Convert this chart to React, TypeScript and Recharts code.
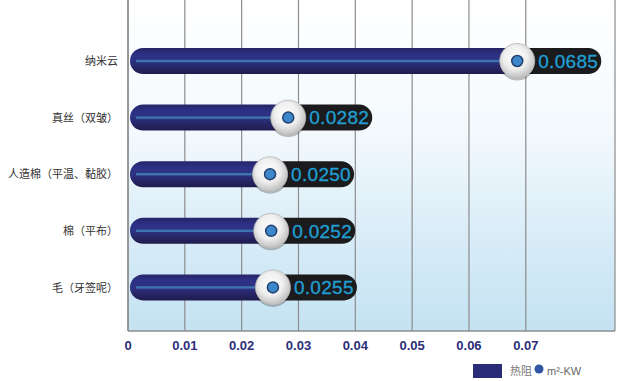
import { BarChart, Bar, XAxis, YAxis, CartesianGrid } from 'recharts';

const categories = ['纳米云', '真丝（双皱）', '人造棉（平温、黏胶）', '棉（平布）', '毛（牙签呢）'];
const resistance = [0.0685, 0.0282, 0.025, 0.0252, 0.0255];
const xTicks = [0, 0.01, 0.02, 0.03, 0.04, 0.05, 0.06, 0.07];

const data = categories.map((name, i) => ({ name, value: resistance[i] }));

const CJK = '"Noto Sans CJK SC", "Noto Sans", sans-serif';

function PillBar(props: any) {
  const { x, y, width, height, value } = props;
  const r = height / 2;
  const cy = y + r;
  const kx = x + width;
  return (
    <g>
      <rect x={kx - 20} y={y} width={104} height={height} rx={r} fill="#1b1b1d" />
      <rect x={x + 2} y={y} width={Math.max(width - 2, height)} height={height} rx={r} fill="url(#barFill)" />
      <rect x={x + 8} y={cy - 1.2} width={Math.max(width - 14, 0)} height={2.4} fill="#3f73ad" />
      <circle cx={kx} cy={cy + 1.5} r={18} fill="rgba(0,0,0,0.25)" />
      <circle cx={kx} cy={cy} r={17.5} fill="url(#knob)" stroke="#b9b9b9" strokeWidth={0.8} />
      <circle cx={kx} cy={cy} r={5.5} fill="#3d87cc" stroke="#24406e" strokeWidth={1.5} />
      <text
        x={kx + 21}
        y={cy}
        dy="0.36em"
        fill="#1f9fd3"
        stroke="#1f9fd3"
        strokeWidth={0.3}
        fontSize={19}
        fontFamily='"Liberation Sans", Arial, sans-serif'
        letterSpacing={0.3}
      >
        {value.toFixed(4)}
      </text>
    </g>
  );
}

export default function App() {
  return (
    <div style={{ position: 'absolute', left: 0, top: 0, width: 619, height: 381, background: '#fff' }}>
      <BarChart
        width={619}
        height={381}
        data={data}
        layout="vertical"
        margin={{ top: 0, right: 4, bottom: 0, left: 0 }}
      >
        <defs>
          <linearGradient id="bg" x1="0" y1="0" x2="0" y2="1">
            <stop offset="0%" stopColor="#ffffff" />
            <stop offset="40%" stopColor="#f3f9fd" />
            <stop offset="75%" stopColor="#d6ebf7" />
            <stop offset="100%" stopColor="#c4e2f2" />
          </linearGradient>
          <linearGradient id="barFill" x1="0" y1="0" x2="0" y2="1">
            <stop offset="0%" stopColor="#262566" />
            <stop offset="25%" stopColor="#2e3086" />
            <stop offset="50%" stopColor="#2c3384" />
            <stop offset="75%" stopColor="#272565" />
            <stop offset="100%" stopColor="#1f1c4e" />
          </linearGradient>
          <radialGradient id="knob" cx="45%" cy="40%" r="60%">
            <stop offset="0%" stopColor="#ffffff" />
            <stop offset="55%" stopColor="#efefef" />
            <stop offset="100%" stopColor="#bdbdbd" />
          </radialGradient>
        </defs>
        <CartesianGrid horizontal={false} stroke="#8c8c8c" strokeWidth={1.2} fill="url(#bg)" fillOpacity={1} />
        <XAxis
          type="number"
          domain={[0, 0.0857]}
          ticks={xTicks}
          tickFormatter={(v: number) => String(v)}
          axisLine={{ stroke: '#8c8c8c', strokeWidth: 1.5 }}
          tickLine={false}
          tickMargin={4}
          height={50}
          tick={{ fill: '#2b2d7a', fontSize: 13, fontWeight: 'bold', fontFamily: '"Liberation Sans", Arial' }}
        />
        <YAxis
          type="category"
          dataKey="name"
          width={128}
          padding={{ top: 33, bottom: 15 }}
          axisLine={{ stroke: '#8c8c8c', strokeWidth: 1.5 }}
          tickLine={false}
          tickMargin={4}
          tick={{ fill: '#333', fontSize: 11, fontFamily: CJK }}
        />
        <Bar dataKey="value" barSize={26} shape={<PillBar />} isAnimationActive={false} />
      </BarChart>
      <div style={{ position: 'absolute', left: 473, top: 361 }}>
        <svg width={140} height={20}>
          <rect x={0} y={3} width={29} height={14} fill="#2b2c78" />
          <text x={37} y={10} dy="0.36em" fontSize={11} fill="#777" fontFamily={CJK}>热阻</text>
          <circle cx={66} cy={8} r={4.5} fill="#2f55a3" />
          <text x={74} y={10} dy="0.36em" fontSize={11} fill="#666" fontFamily='"Liberation Sans", Arial'>m²-KW</text>
        </svg>
      </div>
    </div>
  );
}
